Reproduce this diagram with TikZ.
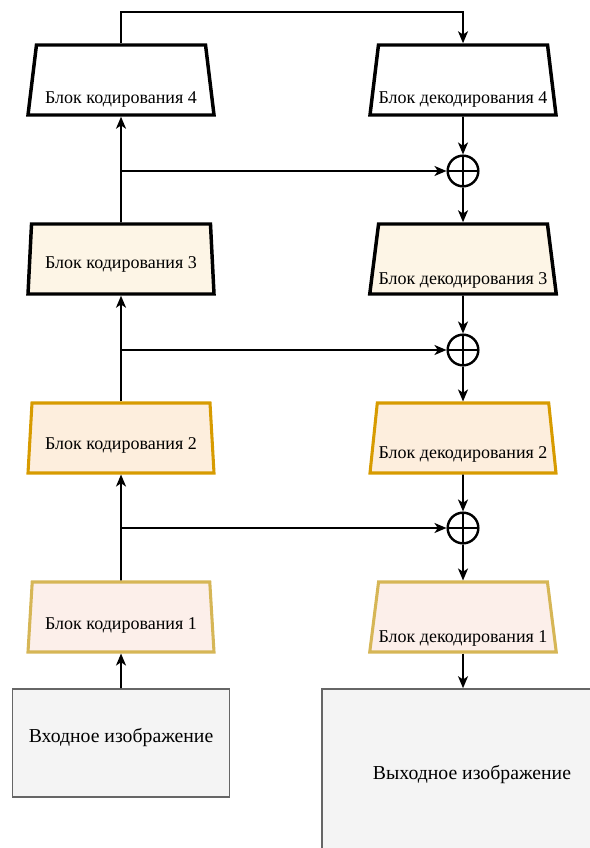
\documentclass[tikz,border=0pt]{standalone}
\usepackage{fontspec}
\setmainfont{Liberation Serif}
\usetikzlibrary{arrows.meta,shapes.geometric}

\definecolor{creamfill}{HTML}{FDF5E6}
\definecolor{peachfill}{HTML}{FDEEDD}
\definecolor{orangeline}{HTML}{D79B00}
\definecolor{pinkfill}{HTML}{FCEFEA}
\definecolor{goldline}{HTML}{D6B656}
\definecolor{imgfill}{HTML}{F4F4F4}
\definecolor{imgline}{HTML}{666666}

\begin{document}
\begin{tikzpicture}[x=0.75pt,y=-0.75pt,>={Stealth[length=9pt,width=7.5pt,inset=2.5pt]},
    font=\fontsize{13.5}{16}\selectfont,
    blk/.style={trapezium, trapezium left angle=80, trapezium right angle=80,
        trapezium stretches body, minimum width=139.5pt, minimum height=52.5pt,
        inner sep=0pt, text depth=0pt, draw, line width=2.6pt},
    lvlfour/.style={fill=white},
    lvlthree/.style={fill=creamfill},
    lvltwo/.style={fill=peachfill, draw=orangeline, line width=2.3pt},
    lvlone/.style={fill=pinkfill, draw=goldline, line width=2.3pt},
    img/.style={rectangle, draw=imgline, fill=imgfill, line width=1.2pt, inner sep=0pt,
        font=\fontsize{14.8}{17}\selectfont},
    sum/.style={circle, draw, line width=1.8pt, minimum size=23pt, inner sep=0pt,
        path picture={\draw[line width=1.4pt]
            (path picture bounding box.north) -- (path picture bounding box.south)
            (path picture bounding box.west) -- (path picture bounding box.east);}},
    conn/.style={line width=1.3pt}]

\useasboundingbox (0,0) rectangle (589,848);

% Encoder column
\node[blk, lvlfour, text height=36pt] (enc4) at (121,80) {Блок кодирования 4};
\node[blk, lvlthree, text height=15pt] (enc3) at (121,259) {Блок кодирования 3};
\node[blk, lvltwo, text height=17pt] (enc2) at (121,438) {Блок кодирования 2};
\node[blk, lvlone, text height=18pt] (enc1) at (121,617) {Блок кодирования 1};

% Decoder column
\node[blk, lvlfour, text height=36pt] (dec4) at (463,80) {Блок декодирования 4};
\node[blk, lvlthree, text height=37.5pt] (dec3) at (463,259) {Блок декодирования 3};
\node[blk, lvltwo, text height=31pt] (dec2) at (463,438) {Блок декодирования 2};
\node[blk, lvlone, text height=37.5pt] (dec1) at (463,617) {Блок декодирования 1};

% Skip sums
\node[sum] (sum4) at (463,171) {};
\node[sum] (sum3) at (463,350) {};
\node[sum] (sum2) at (463,528) {};

% Images
\node[img, minimum width=162.75pt, minimum height=81pt, text height=9pt, text depth=10.5pt]
    (inp) at (121,743) {Входное изображение};
\node[img, minimum width=225pt, minimum height=126pt, text height=14pt, text depth=5pt]
    (outp) at (472,773) {Выходное изображение};

\coordinate (top) at (292,12);

% Encoder path
\draw[conn,->] (inp.north) -- (enc1.south);
\draw[conn,->] (enc1.north) -- (enc2.south);
\draw[conn,->] (enc2.north) -- (enc3.south);
\draw[conn,->] (enc3.north) -- (enc4.south);
\draw[conn,->] (enc4.north) |- (top) -| (dec4.north);

% Skips
\draw[conn,->] (enc3.north |- sum4) -- (sum4);
\draw[conn,->] (enc2.north |- sum3) -- (sum3);
\draw[conn,->] (enc1.north |- sum2) -- (sum2);

% Decoder path
\draw[conn,->] (dec4.south) -- (sum4.north);
\draw[conn,->] (sum4.south) -- (dec3.north);
\draw[conn,->] (dec3.south) -- (sum3.north);
\draw[conn,->] (sum3.south) -- (dec2.north);
\draw[conn,->] (dec2.south) -- (sum2.north);
\draw[conn,->] (sum2.south) -- (dec1.north);
\draw[conn,->] (dec1.south) -- (dec1.south |- outp.north);

\end{tikzpicture}
\end{document}
